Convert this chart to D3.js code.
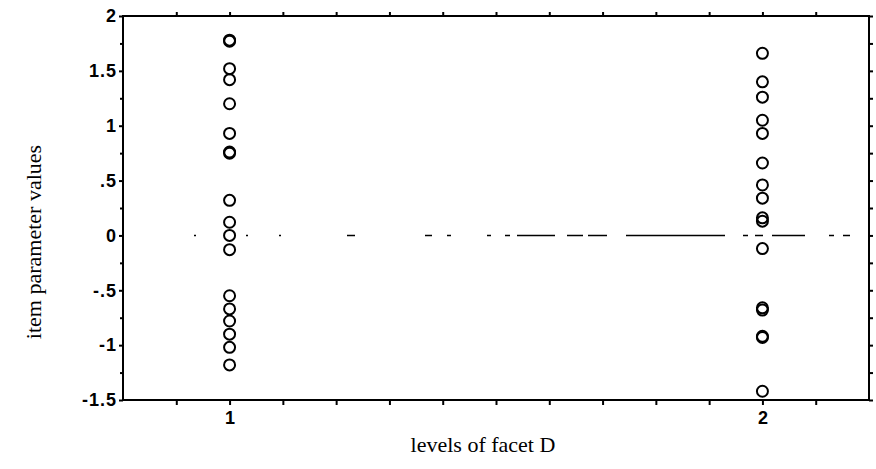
<!DOCTYPE html>
<html>
<head>
<meta charset="utf-8">
<script src="https://cdn.jsdelivr.net/npm/d3@7/dist/d3.min.js"></script>
<style>
  html, body { margin: 0; padding: 0; background: #fff; }
  svg { display: block; }
  .axis path, .axis line { stroke: #000; stroke-width: 2; }
  .axis text { fill: #000; }
</style>
</head>
<body>
<svg id="chart" width="876" height="469"></svg>
<script>
// Facet levels and item parameter estimates at each level
const levels = [1, 2];
const level1Values = [1.78, 1.77, 1.52, 1.42, 1.20, 0.93, 0.76, 0.75, 0.32, 0.12, 0.00, -0.13,
                      -0.55, -0.67, -0.78, -0.90, -1.02, -1.18];
const level2Values = [1.66, 1.40, 1.26, 1.05, 0.93, 0.66, 0.46, 0.34, 0.16, 0.13, -0.12,
                      -0.66, -0.68, -0.92, -0.93, -1.42];

// Axis ticks
const yTickValues = [2, 1.5, 1, 0.5, 0, -0.5, -1, -1.5];
const yTickLabels = ["2", "1.5", "1", ".5", "0", "-.5", "-1", "-1.5"];
const yMinorTicks = [1.75, 1.25, 0.75, 0.25, -0.25, -0.75, -1.25];
const xTickValues = [0.9, 1.0, 1.1, 1.2, 1.3, 1.4, 1.5, 1.6, 1.7, 1.8, 1.9, 2.0, 2.1];
const xTickLabels = { 1: "1", 2: "2" };
const referenceValue = 0;

const svg = d3.select("#chart");
const plotLeft = 123, plotRight = 869, plotTop = 16, plotBottom = 400;

const x = d3.scaleLinear().domain([0.8, 2.2]).range([plotLeft, plotRight]);
const y = d3.scaleLinear().domain([-1.5, 2]).range([plotBottom, plotTop]);

// Irregular dotted reference line at zero
svg.append("line")
  .attr("x1", x(0.8)).attr("x2", x(2.2))
  .attr("y1", y(referenceValue)).attr("y2", y(referenceValue))
  .attr("stroke", "#000")
  .attr("stroke-width", 1.6)
  .attr("stroke-dasharray",
    "0,71,2,50,2,31,2,66,8,70,7,15,4,36,4,14,5,7,38,12,16,5,19,19,99,18,5,7,8,9,33,24,5,9,7,200");

// Frame
svg.append("rect")
  .attr("x", plotLeft).attr("y", plotTop)
  .attr("width", plotRight - plotLeft).attr("height", plotBottom - plotTop)
  .attr("fill", "none").attr("stroke", "#000").attr("stroke-width", 2);

// Left axis with labels
const yAxis = svg.append("g").attr("class", "axis")
  .attr("transform", `translate(${plotLeft},0)`)
  .call(d3.axisLeft(y).tickValues(yTickValues).tickSize(4).tickPadding(2)
    .tickFormat((d, i) => yTickLabels[i]));
yAxis.selectAll("text")
  .attr("font-family", "Liberation Sans, Arial, sans-serif")
  .attr("font-size", 18)
  .attr("font-weight", "bold")
  .attr("letter-spacing", 1);

svg.append("g").attr("class", "axis")
  .attr("transform", `translate(${plotLeft},0)`)
  .call(d3.axisLeft(y).tickValues(yMinorTicks).tickSize(3).tickFormat(""));

// Right axis ticks
svg.append("g").attr("class", "axis")
  .attr("transform", `translate(${plotRight},0)`)
  .call(d3.axisRight(y).tickValues(yTickValues.concat(yMinorTicks)).tickSize(4).tickFormat(""));

// Bottom axis
const xAxis = svg.append("g").attr("class", "axis")
  .attr("transform", `translate(0,${plotBottom})`)
  .call(d3.axisBottom(x).tickValues(xTickValues).tickSize(5).tickPadding(6)
    .tickFormat(d => xTickLabels[Math.round(d * 10) / 10] || ""));
xAxis.selectAll("text")
  .attr("font-family", "Liberation Sans, Arial, sans-serif")
  .attr("font-size", 18)
  .attr("font-weight", "bold");

// Top axis ticks
svg.append("g").attr("class", "axis")
  .attr("transform", `translate(0,${plotTop})`)
  .call(d3.axisTop(x).tickValues(xTickValues).tickSize(4).tickFormat(""));

svg.selectAll(".axis path.domain").remove();

// Points
const points = [
  ...level1Values.map(v => ({ level: levels[0], value: v })),
  ...level2Values.map(v => ({ level: levels[1], value: v }))
];
svg.append("g").selectAll("circle")
  .data(points)
  .join("circle")
  .attr("cx", d => x(d.level))
  .attr("cy", d => y(d.value))
  .attr("r", 5.5)
  .attr("fill", "none")
  .attr("stroke", "#000")
  .attr("stroke-width", 2);

// Axis titles
svg.append("text")
  .attr("x", 483).attr("y", 452)
  .attr("text-anchor", "middle")
  .attr("font-family", "Liberation Serif, Times New Roman, serif")
  .attr("font-size", 22)
  .text("levels of facet D");

svg.append("text")
  .attr("transform", `translate(36,${242}) rotate(-90)`)
  .attr("text-anchor", "middle")
  .attr("dominant-baseline", "middle")
  .attr("font-family", "Liberation Serif, Times New Roman, serif")
  .attr("font-size", 22)
  .text("item parameter values");
</script>
</body>
</html>
